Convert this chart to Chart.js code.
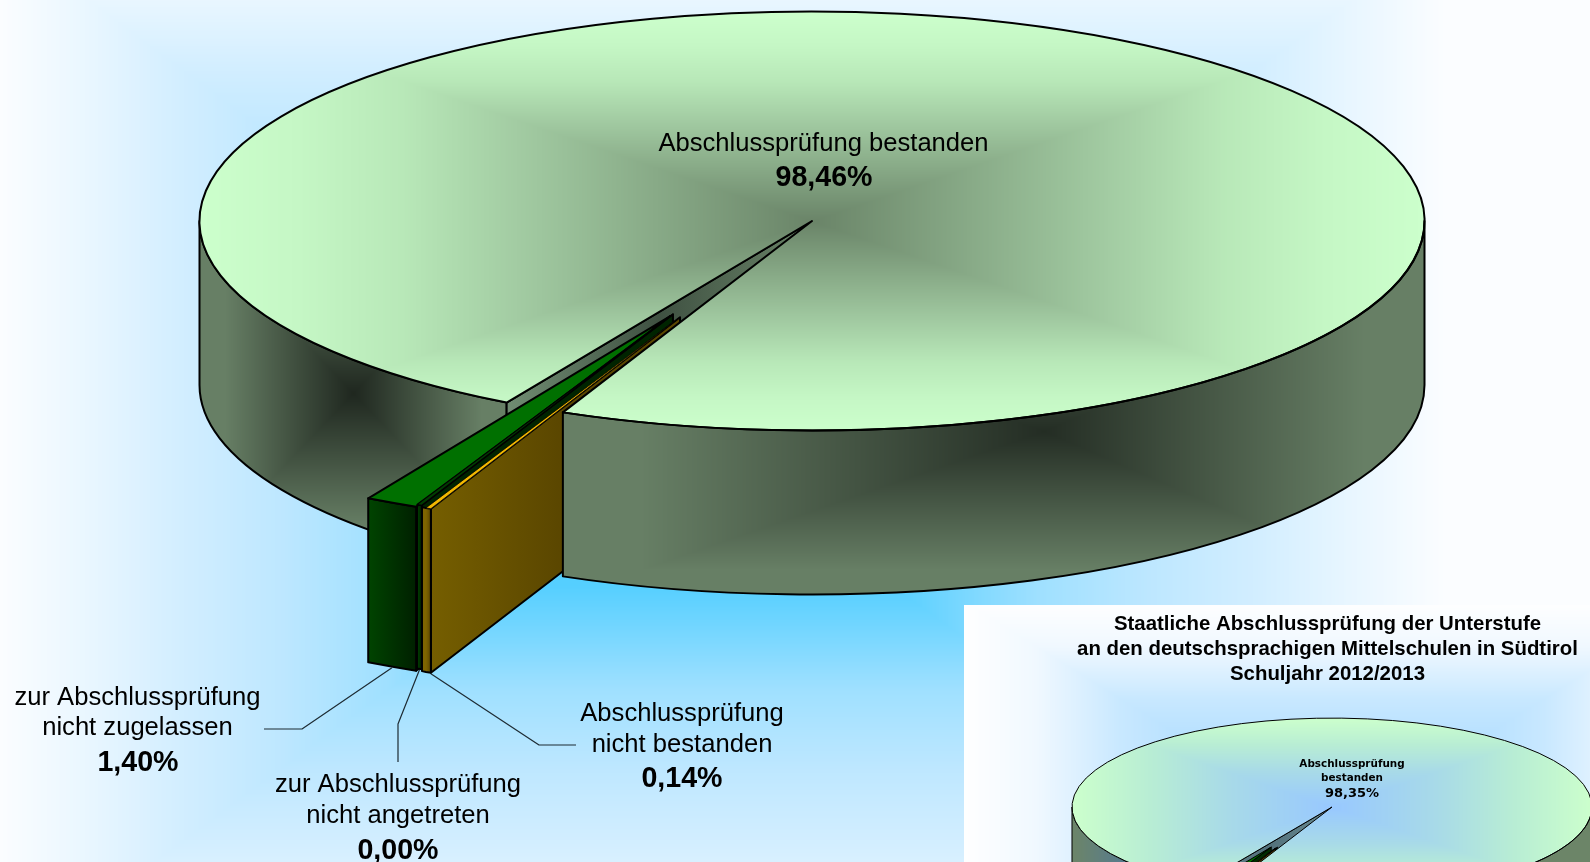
<!DOCTYPE html>
<html lang="de">
<head>
<meta charset="utf-8">
<title>Staatliche Abschlussprüfung</title>
<script src="https://cdn.jsdelivr.net/npm/chart.js@4/dist/chart.umd.min.js"></script>
<style>
html,body{margin:0;padding:0;background:#fff;overflow:hidden}
#stage{position:relative;width:1590px;height:862px;overflow:hidden}
#main{position:absolute;left:0;top:0}
#inset{position:absolute;left:964px;top:605px}
</style>
</head>
<body>
<div id="stage">
<canvas id="main" width="1590" height="862"></canvas>
<canvas id="inset" width="626" height="257"></canvas>
</div>
<script>
// ---- data ----
const categories = ['Abschlussprüfung bestanden', 'Abschlussprüfung nicht bestanden', 'zur Abschlussprüfung nicht angetreten', 'zur Abschlussprüfung nicht zugelassen'];
const values2013_14 = [98.46, 0.14, 0.00, 1.40];
const values2012_13 = [98.35, 0.20, 0.05, 1.40];
const labelLines = [['Abschlussprüfung bestanden'], ['Abschlussprüfung', 'nicht bestanden'], ['zur Abschlussprüfung', 'nicht angetreten'], ['zur Abschlussprüfung', 'nicht zugelassen']];
const insetLabelLines = ['Abschlussprüfung', 'bestanden'];
const insetTitle = ['Staatliche Abschlussprüfung der Unterstufe', 'an den deutschsprachigen Mittelschulen in Südtirol', 'Schuljahr 2012/2013'];
const pct = v => v.toFixed(2).replace('.', ',') + '%';

// ---- rectangular "path" gradients, built as canvas patterns ----
function hex(c){return [1,3,5].map(i=>parseInt(c.substr(i,2),16));}
function rectPattern(W,H,g){
  const cv=document.createElement('canvas');cv.width=W;cv.height=H;
  const c=cv.getContext('2d'),im=c.createImageData(W,H),d=im.data;
  const lut=[];const st=g.stops.map(s=>[s[0],hex(s[1])]);
  for(let i=0;i<=512;i++){const t=i/512;let j=0;while(j<st.length-2&&t>st[j+1][0])j++;
    const a=st[j],b=st[j+1],f=Math.min(1,Math.max(0,(t-a[0])/(b[0]-a[0])));
    lut.push([0,1,2].map(n=>a[1][n]+(b[1][n]-a[1][n])*f));}
  let p=0;
  for(let y=0;y<H;y++){const dy=y-g.cy,ty=dy<0?-dy/g.t:dy/g.b;
    for(let x=0;x<W;x++){const dx=x-g.cx,tx=dx<0?-dx/g.l:dx/g.r;
      const t=Math.min(1,Math.max(tx,ty)),l=lut[Math.round(t*512)];
      d[p++]=l[0];d[p++]=l[1];d[p++]=l[2];d[p++]=255;}}
  c.putImageData(im,0,0);
  return c.createPattern(cv,'no-repeat');
}
const wallStops=[[0,'#1F271F'],[.84,'#677F65'],[1,'#677F65']];
const bgStops=[[0,'#55CFFF'],[.25,'#55CFFF'],[.45,'#9FE0FF'],[.6,'#BDE7FF'],[.75,'#D3EEFF'],[.87,'#E8F6FF'],[1,'#FBFDFF']];

const mainPatterns={
  bg:rectPattern(1590,862,{cx:705,cy:455,l:705,r:740,t:520,b:520,stops:bgStops}),
  top:rectPattern(1590,862,{cx:812,cy:221,l:612,r:612,t:210,b:210,stops:[[0,'#6A8468'],[.48,'#A2CBA2'],[.67,'#B8E8B8'],[.84,'#C5F7C5'],[1,'#CCFFCC']]}),
  wallL:rectPattern(1590,862,{cx:353,cy:393,l:153,r:153,t:160,b:160,stops:wallStops}),
  wallR:rectPattern(1590,862,{cx:1044,cy:431,l:481,r:381,t:165,b:165,stops:[[0,'#242D24'],[.84,'#677F65'],[1,'#677F65']]})
};
const ix=964,iy=605;
const insetPatterns={
  bg:rectPattern(626,257,{cx:1332-ix,cy:830-iy,l:370,r:370,t:230,b:230,stops:[[0,'#8CCEFF'],[.57,'#C8E8FF'],[.8,'#F0F8FF'],[1,'#FFFFFF']]}),
  top:rectPattern(626,257,{cx:1332-ix,cy:807-iy,l:260,r:260,t:89,b:89,stops:[[0,'#98C8FF'],[.4,'#A8DAE8'],[.7,'#B8EDD4'],[1,'#CCFFCC']]}),
  wallL:rectPattern(626,257,{cx:1160-ix,cy:880-iy,l:88,r:88,t:70,b:70,stops:[[0,'#4A74A0'],[.5,'#5A7C88'],[1,'#6C8568']]}),
  wallR:rectPattern(626,257,{cx:1440-ix,cy:880-iy,l:100,r:100,t:70,b:70,stops:[[0,'#4A74A0'],[.5,'#5A7C88'],[1,'#6C8568']]})
};

// ---- plugin: projects the doughnut controller's arcs into a tilted, extruded pie ----
const pie3d={
  id:'pie3d',
  beforeDraw(chart,args,o){
    const c=chart.ctx;c.save();c.fillStyle=o.patterns.bg;c.fillRect(0,0,chart.width,chart.height);c.restore();
  },
  beforeDatasetsDraw(chart,args,o){
    const c=chart.ctx,arcs=chart.getDatasetMeta(0).data;
    const {cx,cy,k,depth,lw,explode}=o,R=arcs[0].outerRadius;
    const pt=(a,r,s)=>[cx+s[0]+Math.cos(a)*r,cy+s[1]+Math.sin(a)*r*k];
    const shiftOf=(ang,D)=>[Math.cos(ang)*D,Math.sin(ang)*D*k];
    c.save();c.lineJoin='round';c.lineWidth=lw;c.strokeStyle='#000';

    const wallPath=(a0,a1,s)=>{
      c.beginPath();
      c.ellipse(cx+s[0],cy+s[1],R,R*k,0,a0,a1,false);
      c.ellipse(cx+s[0],cy+s[1]+depth,R,R*k,0,a1,a0,true);
      c.closePath();
    };
    const wall=(a0,a1,s,fill)=>{wallPath(a0,a1,s);c.fillStyle=fill;c.fill();c.stroke();};
    const face=(a,s,fill)=>{
      const p=pt(a,R,s);
      c.beginPath();c.moveTo(cx+s[0],cy+s[1]);c.lineTo(p[0],p[1]);c.lineTo(p[0],p[1]+depth);c.lineTo(cx+s[0],cy+s[1]+depth);c.closePath();
      c.fillStyle=fill;c.fill();c.stroke();
    };
    const hgrad=(x0,x1,a,b)=>{const g=c.createLinearGradient(x0,0,x1,0);g.addColorStop(0,a);g.addColorStop(1,b);return g;};

    const main=arcs[0];
    // the reference leaves a slightly wider notch than the exploded slices' share
    if(!main.$notched){main.startAngle+=o.mainNotch;main.$notched=true;}
    const visible=[];
    for(let n=-1;n<=1;n++){const lo=Math.max(main.startAngle,2*Math.PI*n),hi=Math.min(main.endAngle,2*Math.PI*n+Math.PI);if(hi>lo)visible.push([lo,hi]);}
    const isLeft=v=>Math.cos((v[0]+v[1])/2)<0;
    const none=[0,0];

    // far part of the main wall
    visible.filter(isLeft).forEach(v=>wall(v[0],v[1],none,o.patterns.wallL));
    // cut face seen through the gap
    const cut=pt(main.startAngle,R,none);
    const cg=c.createLinearGradient(cut[0],0,cx,0);
    cg.addColorStop(0,o.cutColors[0]);cg.addColorStop(.5,o.cutColors[1]);cg.addColorStop(1,o.cutColors[2]);
    face(main.startAngle,none,cg);

    // exploded slices: far to near; wall + cut face
    const small=[3,2,1];
    const info=i=>{
      const a=arcs[i];let a0=a.startAngle,a1=a.endAngle,dir=(a0+a1)/2;
      if(a1-a0<1e-6){dir=(arcs[i+1].startAngle+arcs[i+1].endAngle)/2;a0-=o.sliver[0];a1+=o.sliver[1];}
      return {a,a0,a1,s:shiftOf(dir+(o.explodeTilt[i]||0),explode[i])};
    };
    small.forEach(i=>{
      const {a0,a1,s}=info(i),st=o.sliceWalls[i];
      const pR=pt(a0,R,s),pL=pt(a1,R,s);
      face(a0,s,st.face);
      const e=o.wallExtend[i];
      if(e){
        const x=pL[0]-e,y=pL[1]-e*.2;
        c.beginPath();c.moveTo(x,y);c.lineTo(pL[0]+1,pL[1]);c.lineTo(pL[0]+1,pL[1]+depth);c.lineTo(x,y+depth);c.closePath();
        c.fillStyle=st.wall[0];c.fill();
        wallPath(a0,a1,s);c.fillStyle=hgrad(pL[0],pR[0],st.wall[0],st.wall[1]);c.fill();
        c.beginPath();c.moveTo(x,y);c.lineTo(pL[0],pL[1]);c.ellipse(cx+s[0],cy+s[1],R,R*k,0,a1,a0,true);
        c.ellipse(cx+s[0],cy+s[1]+depth,R,R*k,0,a0,a1,false);c.lineTo(x,y+depth);c.closePath();c.stroke();
      }else{
        wall(a0,a1,s,hgrad(pL[0],pR[0],st.wall[0],st.wall[1]));
      }
    });

    // main top face through the library's own arc, then the near wall
    c.save();c.translate(cx,cy);c.scale(1,k);c.translate(-main.x,-main.y);
    o.patterns.top.setTransform(c.getTransform().inverse());
    main.draw(c);c.restore();
    visible.filter(v=>!isLeft(v)).forEach(v=>wall(v[0],v[1],none,o.patterns.wallR));
    c.beginPath();c.moveTo(cx,cy);c.ellipse(cx,cy,R,R*k,0,main.startAngle,main.endAngle,false);c.closePath();c.stroke();

    // slice top faces
    small.forEach(i=>{
      const {a,a0,a1,s}=info(i);
      if(a.endAngle-a.startAngle>1e-6){
        c.save();c.translate(cx+s[0],cy+s[1]);c.scale(1,k);c.translate(-a.x,-a.y);a.draw(c);c.restore();
      }else{
        c.beginPath();c.moveTo(cx+s[0],cy+s[1]);c.ellipse(cx+s[0],cy+s[1],R,R*k,0,a0,a1,false);c.closePath();
        c.fillStyle=a.options.backgroundColor;c.fill();
      }
      c.lineWidth=o.topLine[i];
      c.beginPath();c.moveTo(cx+s[0],cy+s[1]);c.ellipse(cx+s[0],cy+s[1],R,R*k,0,a0,a1,false);c.closePath();c.stroke();
      c.lineWidth=lw;
    });

    // leader lines, starting at the foot of each slice's wall
    (o.leaders||[]).forEach(l=>{
      const {a0,a1,s}=info(l.i),p=pt(a0+(a1-a0)*l.at,R,s);
      c.beginPath();c.moveTo(p[0],p[1]+depth+lw/2);l.path.forEach(q=>c.lineTo(q[0],q[1]));
      c.lineWidth=1.2;c.strokeStyle='#1d2b33';c.stroke();
    });

    // text
    c.fillStyle='#000';c.textAlign='center';c.textBaseline='middle';
    (o.texts||[]).forEach(t=>{c.font=t.f;c.fillText(t.s,t.x,t.y);});
    c.restore();
    return false;
  }
};
Chart.register(pie3d);

const sliceColors=['#CCFFCC','#F2B800','#003C00','#007000'];
const walls=[null,{wall:['#7E6400','#5A4500'],face:null},{wall:['#004000','#002400'],face:'#002400'},{wall:['#004400','#002000'],face:'#002C00'}];

function build(id,values,rotation,radius,opts,patterns){
  const ctx=document.getElementById(id).getContext('2d');
  const bg=[patterns.top,...sliceColors.slice(1)];
  const w=walls.map(x=>x&&{...x});
  const g=ctx.createLinearGradient(opts.cx-380*radius/612.5,0,opts.cx-249*radius/612.5,0);
  g.addColorStop(0,'#755E00');g.addColorStop(1,'#5A4600');
  w[1].face=g;
  return new Chart(ctx,{
    type:'pie',
    data:{labels:categories,datasets:[{data:values,backgroundColor:bg,borderWidth:0,hoverOffset:0}]},
    options:{responsive:false,animation:false,devicePixelRatio:1,events:[],radius,rotation,
      layout:{padding:0},
      plugins:{legend:{display:false},tooltip:{enabled:false},title:{display:false},
        pie3d:{patterns,sliceWalls:w,...opts}}}
  });
}

const F='"Liberation Sans",Arial,sans-serif';
const reg='25.6px '+F,bold='bold 28.6px '+F;
const v=values2013_14;
build('main',v,-150.456,612.5,{
  cx:812,cy:221,k:.342,depth:164,lw:2,mainNotch:.0063,
  explode:[0,311,306,312],explodeTilt:[0,.015,0,0],topLine:[0,.7,1.2,2],sliver:[.0052,.0035],wallExtend:[0,4,0,0],
  cutColors:['#708C72','#3F5142','#6A8468'],
  leaders:[
    {i:3,at:.5,path:[[302,729],[264,729]]},
    {i:2,at:.5,path:[[398,724],[398,762]]},
    {i:1,at:0,path:[[539,745],[576,745]]}
  ],
  texts:[
    {s:labelLines[0][0],f:reg,x:823.5,y:144},{s:pct(v[0]),f:bold,x:824,y:178},
    {s:labelLines[3][0],f:reg,x:137.5,y:698},{s:labelLines[3][1],f:reg,x:137.5,y:728},{s:pct(v[3]),f:bold,x:138,y:763},
    {s:labelLines[2][0],f:reg,x:398,y:785},{s:labelLines[2][1],f:reg,x:398,y:816},{s:pct(v[2]),f:bold,x:398,y:851},
    {s:labelLines[1][0],f:reg,x:682,y:714},{s:labelLines[1][1],f:reg,x:682,y:745},{s:pct(v[1]),f:bold,x:682,y:779}
  ]
},mainPatterns);

const tf='bold 20.4px '+F,lf='bold 10.4px "DejaVu Sans",sans-serif',pf='bold 13px "DejaVu Sans",sans-serif';
build('inset',values2012_13,-150.06,260,{
  cx:1332-ix,cy:807-iy,k:.342,depth:70,lw:1,mainNotch:.0063,
  explode:[0,133,130,132],explodeTilt:[0,.015,0,0],topLine:[0,.7,.7,1],sliver:[.0052,.0035],wallExtend:[0,2,0,0],
  cutColors:['#6A8C92','#52707A','#6A8C92'],
  texts:[
    {s:insetTitle[0],f:tf,x:1327.5-ix,y:624-iy},{s:insetTitle[1],f:tf,x:1327.5-ix,y:649-iy},{s:insetTitle[2],f:tf,x:1327.5-ix,y:674-iy},
    {s:insetLabelLines[0],f:lf,x:1352-ix,y:764.5-iy},{s:insetLabelLines[1],f:lf,x:1352-ix,y:778.5-iy},{s:pct(values2012_13[0]),f:pf,x:1352-ix,y:793.5-iy}
  ]
},insetPatterns);
</script>
</body>
</html>
